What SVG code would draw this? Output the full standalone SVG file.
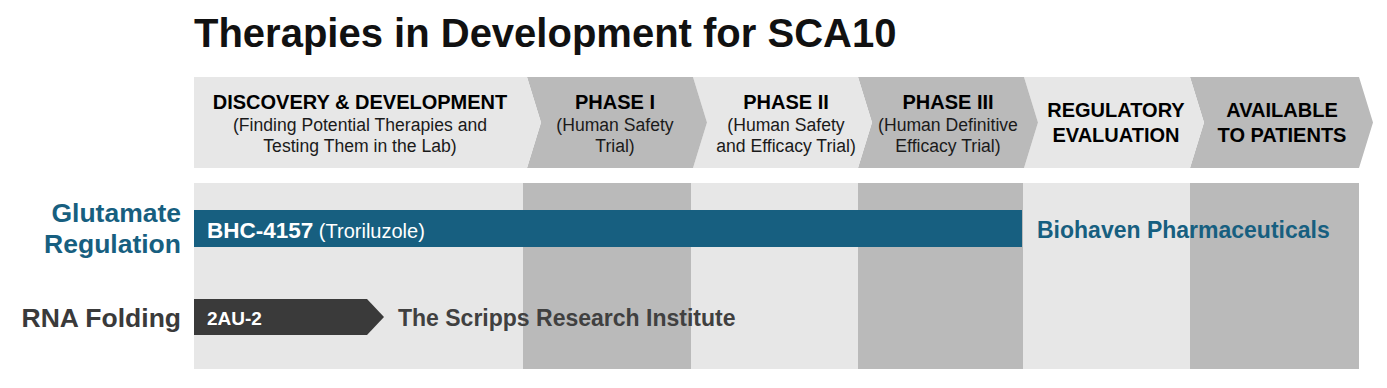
<svg xmlns="http://www.w3.org/2000/svg" width="1387" height="388" viewBox="0 0 1387 388">
<style>
.t{font-family:"Liberation Sans",Arial,sans-serif}
.lt{fill:#e7e7e7}
.dk{fill:#bababa}
.hd{font-family:"Liberation Sans",Arial,sans-serif;font-weight:bold;font-size:20px;fill:#000;text-anchor:middle}
.sb{font-family:"Liberation Sans",Arial,sans-serif;font-size:17.6px;fill:#1a1a1a;text-anchor:middle}
.lab{font-family:"Liberation Sans",Arial,sans-serif;font-weight:bold;font-size:26.5px;text-anchor:end}
</style>
<rect width="1387" height="388" fill="#fff"/>
<text class="t" x="194" y="47" font-size="40" font-weight="bold" fill="#111">Therapies in Development for SCA10</text>
<g id="columns">
<rect class="lt" x="194" y="183" width="329" height="186"/>
<rect class="dk" x="523" y="183" width="168" height="186"/>
<rect class="lt" x="691" y="183" width="167" height="186"/>
<rect class="dk" x="858" y="183" width="165" height="186"/>
<rect class="lt" x="1023" y="183" width="167" height="186"/>
<rect class="dk" x="1190" y="183" width="169" height="186"/>
</g>
<g id="stage-available">
<polygon class="dk" points="1190,77 1359,77 1373,122.5 1359,168 1190,168 1204,122.5"/>
<text class="hd" x="1282" y="117">AVAILABLE</text>
<text class="hd" x="1282" y="142">TO PATIENTS</text>
</g>
<g id="stage-regulatory">
<polygon class="lt" points="1024,77 1190,77 1204,122.5 1190,168 1024,168 1038,122.5"/>
<text class="hd" x="1116" y="117">REGULATORY</text>
<text class="hd" x="1116" y="142">EVALUATION</text>
</g>
<g id="stage-phase3">
<polygon class="dk" points="858,77 1024,77 1038,122.5 1024,168 858,168 872,122.5"/>
<text class="hd" x="948" y="109">PHASE III</text>
<text class="sb" x="948" y="131">(Human Definitive</text>
<text class="sb" x="948" y="152">Efficacy Trial)</text>
</g>
<g id="stage-phase2">
<polygon class="lt" points="693,77 858,77 872,122.5 858,168 693,168 707,122.5"/>
<text class="hd" x="786" y="109">PHASE II</text>
<text class="sb" x="786" y="131">(Human Safety</text>
<text class="sb" x="786" y="152">and Efficacy Trial)</text>
</g>
<g id="stage-phase1">
<polygon class="dk" points="527,77 693,77 707,122.5 693,168 527,168 541,122.5"/>
<text class="hd" x="615" y="109">PHASE I</text>
<text class="sb" x="615" y="131">(Human Safety</text>
<text class="sb" x="615" y="152">Trial)</text>
</g>
<g id="stage-discovery">
<polygon class="lt" points="194,77 527,77 541,122.5 527,168 194,168"/>
<text class="hd" x="360" y="109">DISCOVERY &amp; DEVELOPMENT</text>
<text class="sb" x="360" y="131">(Finding Potential Therapies and</text>
<text class="sb" x="360" y="152">Testing Them in the Lab)</text>
</g>
<g id="row-glutamate">
<text class="lab" x="181" y="222" fill="#175f80">Glutamate</text>
<text class="lab" x="181" y="253" fill="#175f80">Regulation</text>
<rect x="194" y="210" width="828" height="37" fill="#175f80"/>
<text class="t" x="207" y="238" fill="#fff"><tspan font-weight="bold" font-size="22.5">BHC-4157</tspan><tspan font-size="20"> (Troriluzole)</tspan></text>
<text class="t" x="1037" y="238" font-size="23" font-weight="bold" fill="#175f80">Biohaven Pharmaceuticals</text>
</g>
<g id="row-rna">
<text class="lab" x="181" y="327" fill="#3a3a3a">RNA Folding</text>
<polygon points="194,299 367,299 384,317 367,335 194,335" fill="#3a3a3a"/>
<text class="t" x="207" y="325" font-size="19" font-weight="bold" fill="#fff">2AU-2</text>
<text class="t" x="398" y="326" font-size="23" font-weight="bold" fill="#404040">The Scripps Research Institute</text>
</g>
<g id="connectors"></g>
</svg>
